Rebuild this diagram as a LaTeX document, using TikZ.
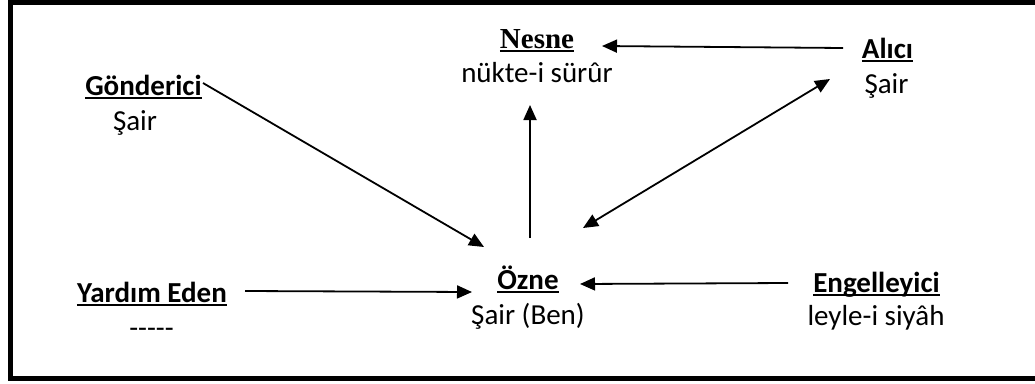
\documentclass[tikz,border=0pt]{standalone}
\usepackage{fontspec}
\setmainfont{Carlito}
\newfontfamily\nesnefont{Liberation Serif}
\usetikzlibrary{arrows.meta}
\begin{document}
\begin{tikzpicture}[x=1pt,y=-1pt,
  txt/.style={inner sep=0pt, anchor=base, font=\fontsize{29}{35}\selectfont},
  ttl/.style={inner sep=0pt, anchor=base, font=\fontsize{29}{35}\selectfont\bfseries},
  ul/.style={line width=2pt},
  conn/.style={line width=1.8pt, -{Triangle[length=15pt,width=13pt]}},
  bconn/.style={line width=1.8pt, {Triangle[length=15pt,width=13pt]}-{Triangle[length=15pt,width=13pt]}}]
\useasboundingbox (0,0) rectangle (1035,383);
\draw[line width=5pt] (1035,2.5) -- (10,2.5) -- (10,378) -- (1035,378);

% titles
\node[ttl] (gon) at (143.5,95) {Gönderici};
\node[txt] (gons) at (135,130) {Şair};
\node[ttl, font=\fontsize{29}{35}\selectfont\nesnefont\bfseries] (nes) at (537,48) {Nesne};
\node[txt] (ness) at (537,82) {nükte-i sürûr};
\node[ttl] (ali) at (887.5,58) {Alıcı};
\node[txt] (alis) at (886.5,93) {Şair};
\node[ttl] (yar) at (152,302) {Yardım Eden};
\node[txt] (yars) at (151.5,337) {{-}{-}{-}{-}{-}};
\node[ttl] (ozn) at (528,289) {Özne};
\node[txt] (ozns) at (528,324) {Şair (Ben)};
\node[ttl] (eng) at (876.5,292) {Engelleyici};
\node[txt] (engs) at (876,325) {leyle-i siyâh};

% underlines
\foreach \n in {gon,nes,ali,yar,ozn,eng}
  \draw[ul] ([yshift=-3pt]\n.base west) -- ([yshift=-3pt]\n.base east);

% connector ends
\coordinate (gonout) at (203,83);
\coordinate (ozngin) at (484,247);
\coordinate (yarout) at (245,291);
\coordinate (oznyin) at (472,292);
\coordinate (engout) at (788,283);
\coordinate (ozneIn) at (580,284);
\coordinate (oznup) at (530,238);
\coordinate (nesin) at (530,105);
\coordinate (aliout) at (843,48);
\coordinate (nesein) at (602,46);
\coordinate (alidn) at (830,79);
\coordinate (oznali) at (583,228);

\draw[conn] (gonout) -- (ozngin);
\draw[conn] (yarout) -- (oznyin);
\draw[conn] (engout) -- (ozneIn);
\draw[conn] (oznup) -- (nesin);
\draw[conn] (aliout) -- (nesein);
\draw[bconn] (oznali) -- (alidn);
\end{tikzpicture}
\end{document}
